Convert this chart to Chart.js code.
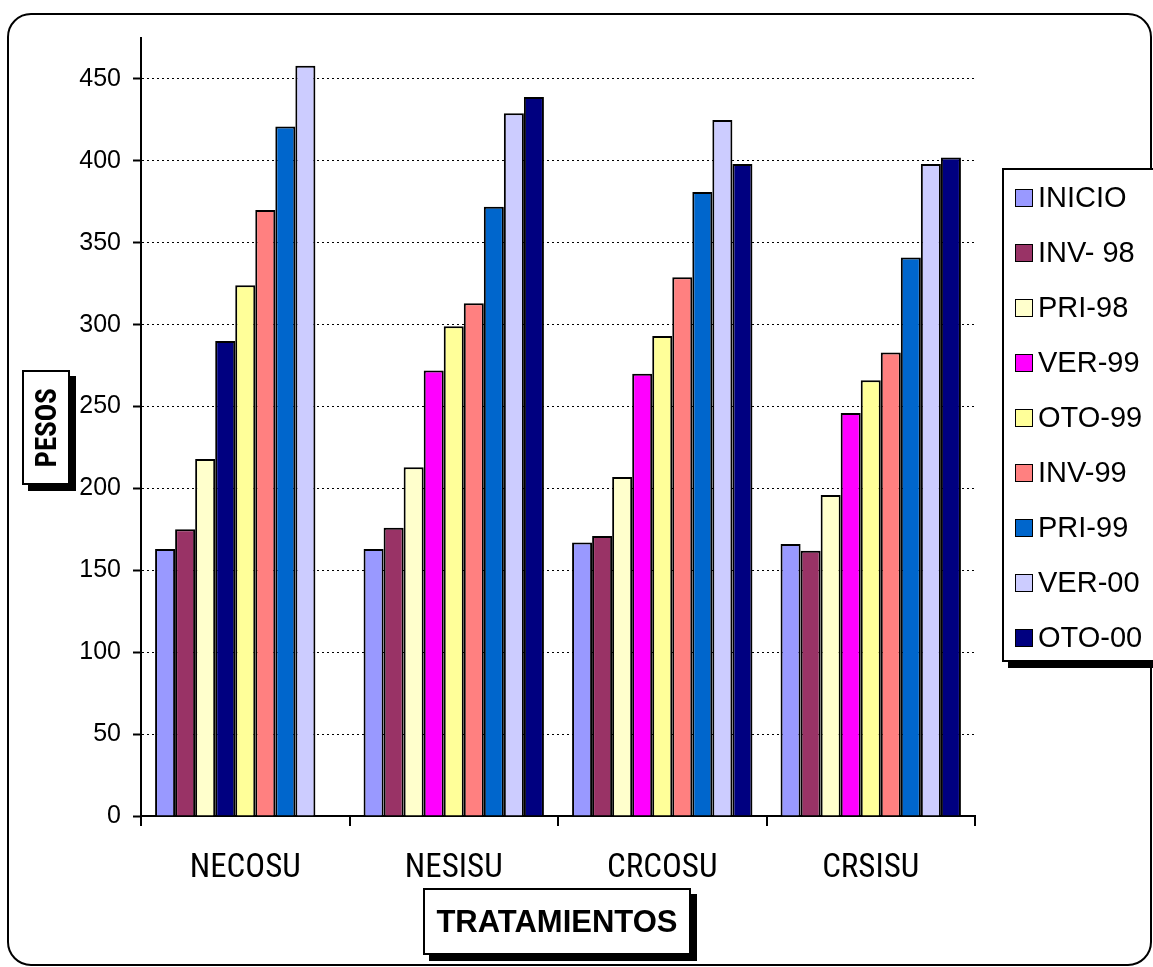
<!DOCTYPE html>
<html lang="es">
<head>
<meta charset="utf-8">
<title>Pesos por tratamiento</title>
<script src="https://cdn.jsdelivr.net/npm/chart.js@4/dist/chart.umd.min.js"></script>
<style>
body {margin: 0; background: #fff; font-family: "Liberation Sans", Arial, sans-serif;}
#page {position: relative; width: 1153px; height: 967px; overflow: hidden;}
#marco {position: absolute; left: 7px; top: 13px; width: 1141px; height: 949px; border: 2px solid #000; border-radius: 24px;}
#grafico {position: absolute; left: 0; top: 0;}
.caja {position: absolute; border: 2px solid #000; background: #fff; box-shadow: 6px 6px 0 #000; color: #000;}
#tituloY {left: 22px; top: 370px; width: 44px; height: 111px; display: flex; align-items: center; justify-content: center;}
#tituloY span {writing-mode: vertical-rl; transform: rotate(180deg); font: bold 29px "Roboto Condensed", "DejaVu Sans Condensed", sans-serif;}
#tituloX {left: 423px; top: 888px; width: 264px; height: 63px; display: flex; align-items: center; justify-content: center; font: bold 31px "Liberation Sans", Arial, sans-serif;}
#leyenda {left: 1002px; top: 168px; width: 180px; height: 490px;}
.item {height: 55px; display: flex; align-items: center; font-size: 29px; padding-left: 11px;}
.item .cuadro {display: inline-block; flex: none; width: 16px; height: 16px; border: 1px solid #000; margin-right: 5px;}
</style>
</head>
<body>
<div id="page">
	<div id="marco"></div>
	<canvas id="grafico" width="1153" height="967"></canvas>
	<div class="caja" id="tituloY"><span>PESOS</span></div>
	<div class="caja" id="tituloX">TRATAMIENTOS</div>
	<div class="caja" id="leyenda"></div>
</div>
<script>
// tratamientos (categorias del eje X)
const tratamientos = ['NECOSU', 'NESISU', 'CRCOSU', 'CRSISU'];

// epocas de pesaje (series)
const epocas = ['INICIO', 'INV- 98', 'PRI-98', 'VER-99', 'OTO-99', 'INV-99', 'PRI-99', 'VER-00', 'OTO-00'];
const colores = ['#9999FF', '#993366', '#FFFFCC', '#FF00FF', '#FFFF99', '#FF8080', '#0066CC', '#CCCCFF', '#000080'];

// pesos, un array por epoca
const inicio = [163, 163, 167, 166];
const inv98  = [175, 176, 171, 162];
const pri98  = [218, 213, 207, 196];
const ver99  = [290, 272, 270, 246];
const oto99  = [324, 299, 293, 266];
const inv99  = [370, 313, 329, 283];
const pri99  = [421, 372, 381, 341];
const ver00  = [458, 429, 425, 398];
const oto00  = [null, 439, 398, 402];
const series = [inicio, inv98, pri98, ver99, oto99, inv99, pri99, ver00, oto00];

// etiquetas del eje Y
const ticksY = [0, 50, 100, 150, 200, 250, 300, 350, 400, 450];

// la barra VER-99 de NECOSU sale en azul oscuro en el original
const coloresVer99 = ['#000080', '#FF00FF', '#FF00FF', '#FF00FF'];

const datasets = series.map(function (valores, i) {
	return {
		label: epocas[i],
		data: valores,
		backgroundColor: i === 3 ? coloresVer99 : colores[i],
		borderColor: '#000',
		borderWidth: 2,
		categoryPercentage: 0.865,
		barPercentage: 1.0
	};
});

new Chart(document.getElementById('grafico'), {
	type: 'bar',
	data: {labels: tratamientos, datasets: datasets},
	options: {
		responsive: false,
		animation: false,
		layout: {padding: {top: 38, right: 178, bottom: 0, left: 0}},
		plugins: {legend: {display: false}, tooltip: {enabled: false}},
		scales: {
			x: {
				afterFit: function (s) { s.height = 151; },
				grid: {drawOnChartArea: false, drawTicks: true, tickLength: 10, color: '#000', lineWidth: 2},
				border: {display: true, color: '#000', width: 2},
				ticks: {color: '#000', padding: 23, font: {family: '"Roboto Condensed", "DejaVu Sans Condensed", sans-serif', size: 33}}
			},
			y: {
				min: 0,
				max: 475,
				afterFit: function (s) { s.width = 141; },
				afterBuildTicks: function (s) {
					s.ticks = ticksY.map(function (v) { return {value: v}; });
				},
				grid: {color: '#000', lineWidth: 1, tickLength: 8, tickColor: '#000', tickWidth: 2},
				border: {display: true, color: '#000', width: 2, dash: [2, 3]},
				ticks: {color: '#000', padding: 12, font: {family: '"Liberation Sans", Arial, sans-serif', size: 25}}
			}
		}
	}
});

// leyenda en HTML
const zonaLeyenda = document.getElementById('leyenda');
for (let i = 0; i < epocas.length; i++) {
	const item = document.createElement('div');
	item.className = 'item';
	const cuadro = document.createElement('span');
	cuadro.className = 'cuadro';
	cuadro.style.background = colores[i];
	const texto = document.createElement('span');
	texto.textContent = epocas[i];
	item.appendChild(cuadro);
	item.appendChild(texto);
	zonaLeyenda.appendChild(item);
}
</script>
</body>
</html>
